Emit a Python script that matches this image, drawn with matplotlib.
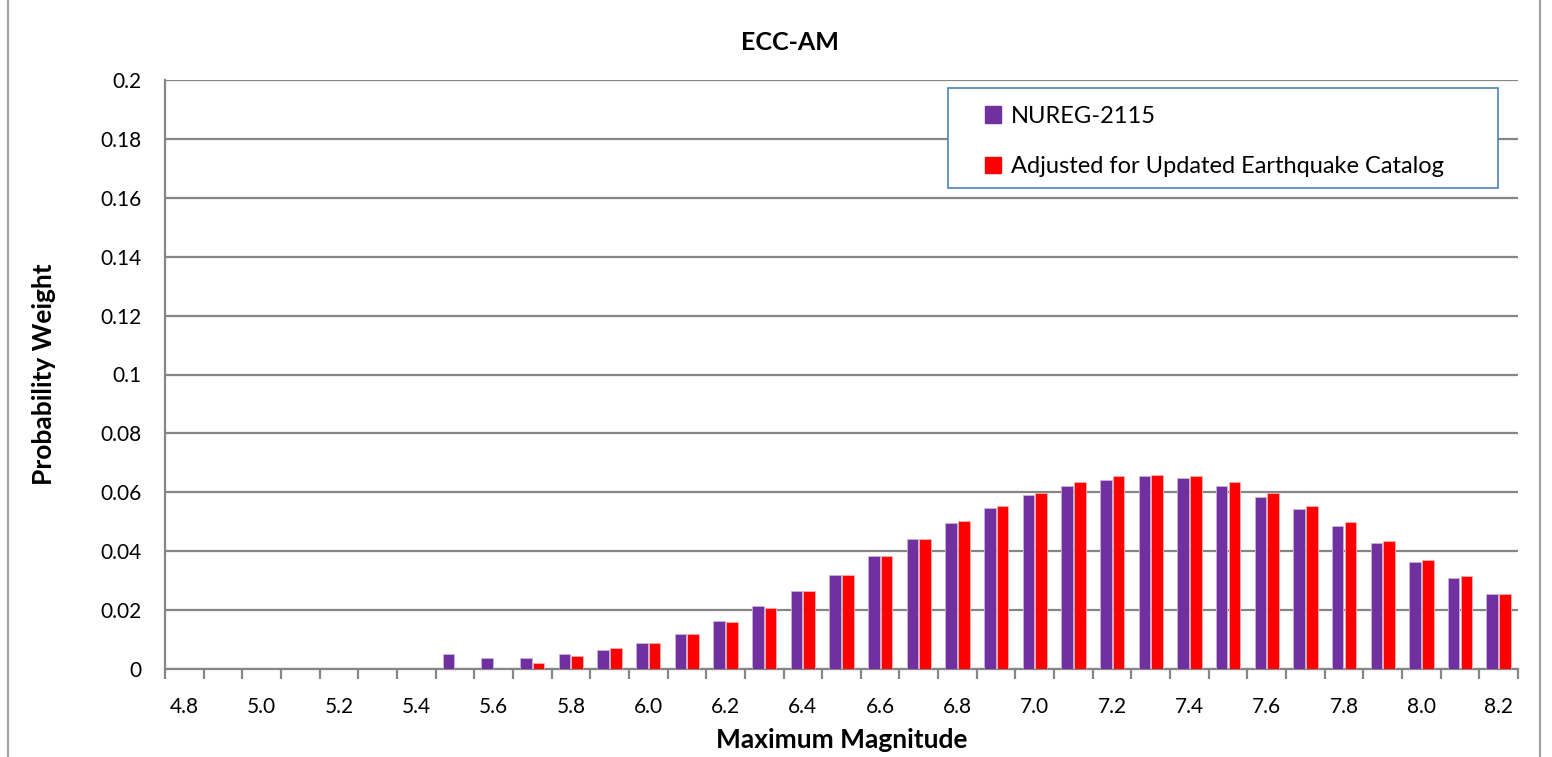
import numpy as np
import matplotlib.pyplot as plt
from matplotlib.patches import Rectangle
from matplotlib.lines import Line2D

plt.rcParams['font.family'] = ['Lato', 'DejaVu Sans']

# magnitude categories 4.8 .. 8.2
magnitudes = ['4.8', '4.9', '5.0', '5.1', '5.2', '5.3', '5.4', '5.5', '5.6', '5.7',
              '5.8', '5.9', '6.0', '6.1', '6.2', '6.3', '6.4', '6.5', '6.6', '6.7',
              '6.8', '6.9', '7.0', '7.1', '7.2', '7.3', '7.4', '7.5', '7.6', '7.7',
              '7.8', '7.9', '8.0', '8.1', '8.2']

nureg_2115 = [0, 0, 0, 0, 0, 0, 0, 0.0052, 0.0039, 0.0039,
              0.0051, 0.0063, 0.0089, 0.0120, 0.0163, 0.0214, 0.0265, 0.0320, 0.0384, 0.0440,
              0.0497, 0.0547, 0.0590, 0.0622, 0.0641, 0.0655, 0.0647, 0.0622, 0.0585, 0.0542,
              0.0485, 0.0427, 0.0365, 0.0309, 0.0253]

adjusted = [0, 0, 0, 0, 0, 0, 0, 0, 0, 0.0020,
            0.0045, 0.0071, 0.0089, 0.0120, 0.0158, 0.0208, 0.0265, 0.0320, 0.0384, 0.0440,
            0.0503, 0.0552, 0.0597, 0.0634, 0.0655, 0.0659, 0.0655, 0.0634, 0.0597, 0.0553,
            0.0498, 0.0434, 0.0371, 0.0317, 0.0253]

purple = '#7030A0'
red = '#FF0000'
grid_col = '#868686'

fig = plt.figure(figsize=(15.52, 7.57), dpi=100)
ax = fig.add_axes([165 / 1552, 88 / 757, 1353 / 1552, 589 / 757])

x = np.arange(len(magnitudes))
v1 = np.array(nureg_2115, dtype=float)
v2 = np.array(adjusted, dtype=float)
v1[v1 == 0] = np.nan
v2[v2 == 0] = np.nan
w = 0.30
ax.bar(x - 0.165, v1, width=w, color=purple, edgecolor='#C9B3DA', linewidth=0.6, zorder=3)
ax.bar(x + 0.165, v2, width=w, color=red, edgecolor='#FFB0B0', linewidth=0.6, zorder=3)

ax.set_xlim(-0.5, len(magnitudes) - 0.5)
ax.set_ylim(0, 0.2)
ax.set_yticks(np.arange(0, 0.2001, 0.02))
ax.set_yticklabels(['0', '0.02', '0.04', '0.06', '0.08', '0.1', '0.12', '0.14', '0.16', '0.18', '0.2'])
ax.yaxis.grid(True, color=grid_col, linewidth=1.6, zorder=0)
ax.set_axisbelow(True)

ax.set_xticks(x[::2])
ax.set_xticklabels(magnitudes[::2])
ax.set_xticks(np.arange(-0.5, len(magnitudes)), minor=True)
ax.tick_params(axis='x', which='major', length=0, pad=20, labelsize=15)
ax.tick_params(axis='x', which='minor', length=7, width=1.6, color=grid_col)
ax.tick_params(axis='y', length=0, pad=17, labelsize=15)

for s in ['top', 'right']:
    ax.spines[s].set_visible(False)
for s in ['left', 'bottom']:
    ax.spines[s].set_color(grid_col)
    ax.spines[s].set_linewidth(1.6)

ax.set_xlabel('Maximum Magnitude', fontsize=19, fontweight='bold', labelpad=8)
ax.set_ylabel('Probability Weight', fontsize=19, fontweight='bold', labelpad=32)
fig.text(790 / 1552, 1 - 43 / 757, 'ECC-AM', fontsize=18, fontweight='bold',
         ha='center', va='center')

# legend box
box = Rectangle(((948 - 165) / 1353, (669 - 188) / 589), 550 / 1353, 100 / 589,
                transform=ax.transAxes, facecolor='white', edgecolor='#4F81BD',
                linewidth=1.2, zorder=5)
ax.add_patch(box)
handles = [Rectangle((0, 0), 1, 1, color=purple), Rectangle((0, 0), 1, 1, color=red)]
leg = ax.legend(handles, ['NUREG-2115', 'Adjusted for Updated Earthquake Catalog'],
                loc='upper left', bbox_to_anchor=((973 - 165) / 1353, (669 - 94) / 589),
                frameon=False, fontsize=17, handlelength=0.7, handleheight=0.7,
                handletextpad=0.4, labelspacing=1.25, borderpad=0)
leg.set_zorder(6)

# chart frame
fig.add_artist(Line2D([8 / 1552, 8 / 1552], [0, 1], color='#A0A0A0', linewidth=1.5))
fig.add_artist(Line2D([1540 / 1552, 1540 / 1552], [0, 1], color='#A0A0A0', linewidth=1.5))

plt.savefig('out.png')
